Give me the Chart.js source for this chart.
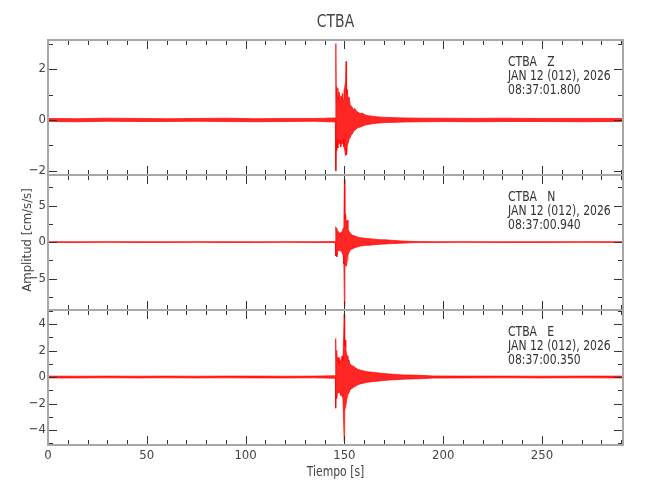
<!DOCTYPE html>
<html>
<head>
<meta charset="utf-8">
<script src="https://cdn.jsdelivr.net/npm/chart.js@4.4.1/dist/chart.umd.min.js"></script>
<style>
  body { margin: 0; background: #fff; }
</style>
</head>
<body>
<canvas id="sismo" width="650" height="500"></canvas>
<script>
const tiempoZ = [0, 15, 30, 45, 60, 75, 90, 105, 120, 135,
  145.4, 145.6, 145.75, 145.9, 146.1, 146.4, 146.7, 147.0, 147.4, 147.8,
  148.2, 148.6, 149.0, 149.4, 149.8, 150.2, 150.6, 150.85, 151.1, 151.5,
  151.9, 152.4, 152.9, 153.4, 154.0, 154.6, 155.3, 156.0, 157.0, 158.0,
  159.0, 160.5, 162.0, 164.0, 166.0, 169.0, 172.0, 176.0, 180.0, 190,
  200, 215, 230, 250, 270, 291];
const supZ = [0.06, 0.05, 0.07, 0.06, 0.05, 0.06, 0.07, 0.05, 0.06, 0.06,
  0.08, 1.1, 3.0, 0.7, 1.3, 0.9, 1.25, 0.8, 1.1, 0.75,
  0.95, 0.85, 1.05, 0.8, 1.15, 1.3, 1.5, 2.3, 1.0, 1.2,
  0.8, 0.9, 0.6, 0.55, 0.5, 0.4, 0.45, 0.35, 0.3, 0.25,
  0.27, 0.2, 0.17, 0.15, 0.13, 0.11, 0.1, 0.09, 0.08, 0.07,
  0.07, 0.06, 0.07, 0.06, 0.06, 0.06];
const infZ = [-0.06, -0.07, -0.05, -0.06, -0.06, -0.05, -0.06, -0.07, -0.06, -0.05,
  -0.08, -1.0, -2.0, -0.9, -1.2, -0.8, -1.1, -0.75, -0.95, -0.8,
  -1.05, -0.8, -0.95, -0.75, -1.05, -1.2, -1.4, -1.1, -1.37, -1.0,
  -0.9, -0.75, -0.7, -0.6, -0.55, -0.45, -0.4, -0.35, -0.3, -0.28,
  -0.25, -0.2, -0.18, -0.15, -0.13, -0.11, -0.1, -0.09, -0.08, -0.07,
  -0.06, -0.07, -0.06, -0.06, -0.07, -0.06];

const tiempoN = [0, 15, 30, 45, 60, 75, 90, 105, 120, 135,
  145.4, 145.65, 145.9, 146.2, 146.6, 147.0, 147.4, 147.8, 148.2, 148.6,
  149.0, 149.4, 149.75, 150.0, 150.25, 150.6, 151.0, 151.4, 151.8, 152.2,
  152.8, 153.4, 154.0, 155.0, 156.0, 157.0, 158.0, 159.5, 161.0, 163.0,
  165.0, 168.0, 171.0, 175.0, 179.0, 183.0, 188.0, 195, 210, 230,
  250, 270, 291];
const supN = [0.05, 0.04, 0.05, 0.05, 0.04, 0.05, 0.05, 0.04, 0.05, 0.05,
  0.06, 2.1, 1.5, 1.9, 1.2, 1.45, 1.0, 1.3, 1.1, 1.35,
  1.5, 1.9, 2.5, 8.6, 3.2, 3.8, 2.6, 3.0, 1.9, 1.5,
  1.3, 1.1, 0.95, 0.85, 0.75, 0.65, 0.6, 0.55, 0.5, 0.45,
  0.4, 0.32, 0.3, 0.22, 0.15, 0.1, 0.07, 0.05, 0.05, 0.04,
  0.05, 0.05, 0.05];
const infN = [-0.05, -0.05, -0.04, -0.05, -0.05, -0.04, -0.05, -0.05, -0.04, -0.05,
  -0.06, -1.9, -1.5, -2.0, -1.3, -1.2, -1.1, -1.25, -1.0, -1.3,
  -1.6, -1.8, -3.0, -8.8, -3.5, -2.9, -3.3, -2.5, -1.8, -1.5,
  -1.2, -1.0, -0.95, -0.8, -0.7, -0.65, -0.55, -0.5, -0.45, -0.42,
  -0.37, -0.3, -0.26, -0.2, -0.15, -0.1, -0.07, -0.05, -0.04, -0.05,
  -0.05, -0.04, -0.05];

const tiempoE = [0, 15, 30, 45, 60, 75, 90, 105, 120, 135,
  145.4, 145.6, 145.8, 146.1, 146.4, 146.8, 147.2, 147.6, 148.0, 148.4,
  148.8, 149.2, 149.6, 149.9, 150.15, 150.4, 150.7, 151.0, 151.4, 151.8,
  152.3, 152.8, 153.4, 154.0, 154.8, 155.6, 156.5, 157.5, 158.5, 160.0,
  161.5, 163.0, 165.0, 167.5, 170, 173, 176, 180, 184, 188,
  195, 210, 230, 250, 270, 291];
const supE = [0.07, 0.06, 0.07, 0.06, 0.07, 0.06, 0.07, 0.07, 0.06, 0.07,
  0.1, 2.9, 1.4, 2.0, 1.2, 1.5, 1.0, 1.4, 1.1, 1.3,
  1.6, 1.2, 2.9, 4.75, 2.4, 2.8, 2.2, 1.8, 1.6, 1.2,
  1.3, 1.0, 0.9, 0.85, 0.8, 0.7, 0.6, 0.55, 0.5, 0.45,
  0.4, 0.38, 0.35, 0.3, 0.27, 0.22, 0.2, 0.15, 0.15, 0.13,
  0.08, 0.07, 0.07, 0.06, 0.07, 0.07];
const infE = [-0.07, -0.07, -0.06, -0.07, -0.06, -0.07, -0.06, -0.07, -0.07, -0.06,
  -0.1, -2.35, -1.4, -1.6, -1.3, -1.1, -1.2, -1.0, -1.4, -1.2,
  -1.5, -1.3, -3.3, -4.85, -2.6, -2.3, -2.2, -1.9, -1.5, -1.3,
  -1.2, -1.0, -0.9, -0.85, -0.75, -0.7, -0.6, -0.55, -0.5, -0.45,
  -0.4, -0.37, -0.33, -0.3, -0.26, -0.22, -0.2, -0.16, -0.14, -0.13,
  -0.08, -0.07, -0.06, -0.07, -0.06, -0.07];

// Etiquetas de los ejes
const ticksX = [0, 50, 100, 150, 200, 250];
const ticksZ = [-2, 0, 2];
const ticksN = [-5, 0, 5];
const ticksE = [-4, -2, 0, 2, 4];

const estaciones = [
  { eje: 'yZ', texto: ['CTBA   Z', 'JAN 12 (012), 2026', '08:37:01.800'], paso: 1, ticks: ticksZ },
  { eje: 'yN', texto: ['CTBA   N', 'JAN 12 (012), 2026', '08:37:00.940'], paso: 2.5, ticks: ticksN },
  { eje: 'yE', texto: ['CTBA   E', 'JAN 12 (012), 2026', '08:37:00.350'], paso: 1, ticks: ticksE }
];

const fuente = '"DejaVu Sans Condensed", "Liberation Sans", sans-serif';
const gris = '#444';

function serie(t, v) {
  return t.map((x, i) => ({ x: x, y: v[i] }));
}

function canal(t, sup, inf, eje) {
  return [
    { data: serie(t, sup), yAxisID: eje, borderColor: '#ff0000', borderWidth: 0.7,
      backgroundColor: 'rgba(255,0,0,0.85)', fill: '+1', pointRadius: 0, tension: 0 },
    { data: serie(t, inf), yAxisID: eje, borderColor: '#ff0000', borderWidth: 0.7,
      fill: false, pointRadius: 0, tension: 0 }
  ];
}

function ejeY(min, max, ticks) {
  return {
    type: 'linear', position: 'left', stack: 'canales', stackWeight: 1,
    min: min, max: max,
    afterBuildTicks: s => { s.ticks = ticks.map(v => ({ value: v })); },
    afterFit: s => { s.width = 48; },
    ticks: {
      color: gris, padding: 2, font: { family: fuente, size: 13 },
      callback: v => v < 0 ? '\u2212' + Math.abs(v) : String(v)
    },
    grid: { display: false, drawTicks: false },
    border: { display: false }
  };
}

// texto estrecho, como la fuente del original
function texto(ctx, str, x, y, size) {
  ctx.save();
  ctx.translate(x, y);
  ctx.scale(0.86, 1);
  ctx.font = size + 'px ' + fuente;
  ctx.fillText(str, 0, 0);
  ctx.restore();
}

// marco de cada panel, marcas hacia dentro y textos
const marco = {
  id: 'marco',
  afterDraw(chart) {
    const ctx = chart.ctx;
    const ca = chart.chartArea;
    const sx = chart.scales.x;
    ctx.save();
    estaciones.forEach(est => {
      const s = chart.scales[est.eje];
      ctx.strokeStyle = '#333';
      ctx.lineWidth = 1;
      ctx.beginPath();
      for (let t = 0; t <= sx.max; t += 10) {
        const px = Math.round(sx.getPixelForValue(t)) + 0.5;
        const len = t % 50 === 0 ? 9 : 5;
        ctx.moveTo(px, s.top); ctx.lineTo(px, s.top + len);
        ctx.moveTo(px, s.bottom); ctx.lineTo(px, s.bottom - len);
      }
      for (let v = Math.ceil(s.min / est.paso) * est.paso; v <= s.max; v += est.paso) {
        const py = Math.round(s.getPixelForValue(v)) + 0.5;
        const len = est.ticks.includes(v) ? 9 : 5;
        ctx.moveTo(ca.left, py); ctx.lineTo(ca.left + len, py);
        ctx.moveTo(ca.right, py); ctx.lineTo(ca.right - len, py);
      }
      ctx.stroke();

      ctx.strokeStyle = '#a8a8a8';
      ctx.lineWidth = 2;
      ctx.strokeRect(ca.left, s.top, ca.right - ca.left, s.bottom - s.top);

      ctx.fillStyle = '#333';
      ctx.textAlign = 'left';
      ctx.textBaseline = 'middle';
      est.texto.forEach((linea, i) => {
        texto(ctx, linea, 508, s.top + 22 + i * 14, 14);
      });
    });

    ctx.fillStyle = gris;
    ctx.textAlign = 'center';
    ctx.textBaseline = 'middle';
    texto(ctx, 'CTBA', (ca.left + ca.right) / 2, 22, 18);
    texto(ctx, 'Tiempo [s]', (ca.left + ca.right) / 2, 472, 14);
    ctx.translate(28, 240);
    ctx.rotate(-Math.PI / 2);
    ctx.font = '13px ' + fuente;
    ctx.fillText('Amplitud [cm/s/s]', 0, 0);
    ctx.restore();
  }
};

new Chart(document.getElementById('sismo'), {
  type: 'line',
  data: {
    datasets: [
      ...canal(tiempoZ, supZ, infZ, 'yZ'),
      ...canal(tiempoN, supN, infN, 'yN'),
      ...canal(tiempoE, supE, infE, 'yE')
    ]
  },
  options: {
    responsive: false,
    animation: false,
    layout: { padding: { top: 40, right: 27, left: 0, bottom: 0 } },
    plugins: { legend: { display: false }, tooltip: { enabled: false } },
    scales: {
      x: {
        type: 'linear', min: 0, max: 291,
        afterBuildTicks: s => { s.ticks = ticksX.map(v => ({ value: v })); },
        afterFit: s => { s.height = 55; },
        ticks: { color: gris, padding: 3, maxRotation: 0, font: { family: fuente, size: 13 } },
        grid: { display: false, drawTicks: false },
        border: { display: false }
      },
      // en la pila el ultimo eje queda arriba
      yE: ejeY(-5.13, 5.06, ticksE),
      yN: ejeY(-9.3, 9.18, ticksN),
      yZ: ejeY(-2.16, 3.14, ticksZ)
    }
  },
  plugins: [marco]
});
</script>
</body>
</html>
